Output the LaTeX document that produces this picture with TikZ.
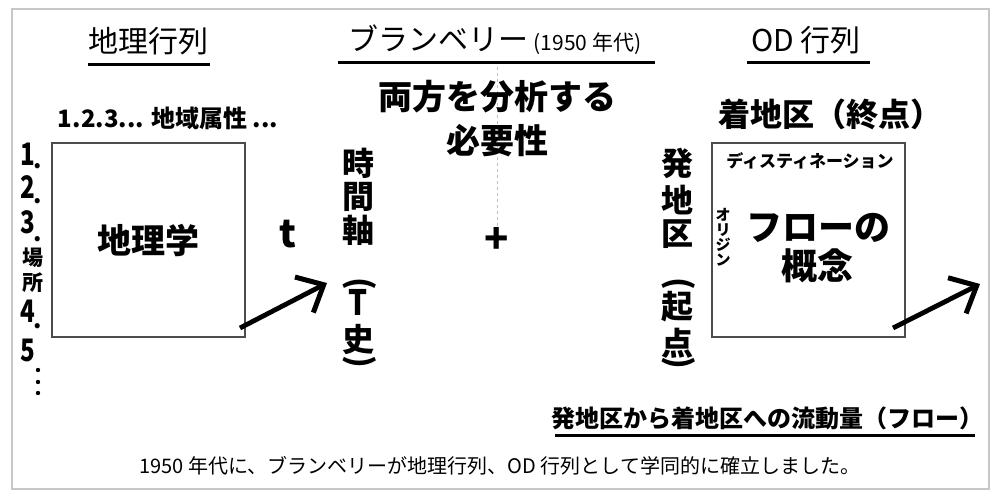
\documentclass[tikz,border=0pt]{standalone}
\usepackage{fontspec}
\setmainfont{Noto Sans CJK JP}
\usetikzlibrary{arrows.meta}
\newcommand\jfs[1]{\fontsize{#1}{#1}\selectfont}
\tikzset{
  frame/.style={draw=black!22,line width=2pt},
  box/.style={draw=black!70,line width=1.6pt,minimum width=193pt,minimum height=194pt,inner sep=0pt},
  uline/.style={line width=3pt,black},
  head/.style={font=\jfs{30}},
  vchar/.style={font=\jfs{32}\bfseries,inner sep=0pt},
  digit/.style={font=\jfs{31}\bfseries,inner sep=0pt,xscale=0.78},
  ndot/.style={font=\jfs{24}\bfseries,inner sep=0pt},
  bigarrow/.style={line width=4.8pt,-{Straight Barb[length=22pt,width=40pt,line width=5pt]}},
  pl/.style={inner sep=0pt},
}
\begin{document}
\begin{tikzpicture}[x=1pt,y=-1pt]
\useasboundingbox (0,0) rectangle (1000,500);
\draw[frame] (12,9) rectangle (989,489);

% headings
\node[head] (h1) at (148,41) {地理行列};
\draw[uline] (88,65) -- (210,65);
\node[head] (h2) at (495,40) {ブランベリー\,{\jfs{21}(1950 年代)}};
\draw[uline] (338,63) -- (655,63);
\node[head] (h3) at (806,40) {OD 行列};
\draw[uline] (747,63) -- (870,63);

% left matrix
\node[font=\jfs{24}\bfseries] (attr) at (168,118) {1.2.3... 地域属性 ...};
\node[box,font=\jfs{34}\bfseries] (geo) at (148.5,240) {地理学};
\node[digit] (c1) at (28,154) {1};
\node[ndot] (d1) at (38,166) {.};
\node[digit] (c2) at (28,187) {2};
\node[ndot] (d2) at (38,201) {.};
\node[digit] (c3) at (28,222) {3};
\node[ndot] (d3) at (38,239) {.};
\node[pl,font=\jfs{21}\bfseries] (c4) at (33,258) {場};
\node[pl,font=\jfs{21}\bfseries] (c5) at (33,283) {所};
\node[digit] (c6) at (28,311) {4};
\node[ndot] (d6) at (38,326) {.};
\node[digit] (c7) at (28,350) {5};
\foreach \yy in {370,382,393} \fill (38,\yy) circle (2.2pt);

\node[font=\jfs{38}\bfseries,anchor=base] (t) at (288,247) {t};

% time axis
\node[vchar] (v1) at (358,163) {時};
\node[vchar] (v2) at (358,197) {間};
\node[vchar] (v3) at (358,230) {軸};
\node[vchar] (v4) at (360,284) {\rotatebox{-90}{(}};
\node[font=\jfs{35}\bfseries,inner sep=0pt,xscale=0.85] (v5) at (358,302) {T};
\node[vchar] (v6) at (358,340) {史};
\node[vchar] (v7) at (360,362) {\rotatebox{-90}{)}};

% center
\draw[black!25,dashed,line width=0.8pt] (497,67) -- (497,228);
\node[font=\jfs{34}\bfseries] (both) at (497,97) {両方を分析する};
\node[font=\jfs{34}\bfseries] (need) at (497,141) {必要性};
\node[font=\jfs{40}\bfseries] (plus) at (497,240) {+};

% origin
\node[vchar] (w1) at (677,163) {発};
\node[vchar] (w2) at (677,200) {地};
\node[vchar] (w3) at (677,234) {区};
\node[vchar] (w4) at (679,284) {\rotatebox{-90}{(}};
\node[vchar] (w5) at (677,307) {起};
\node[vchar] (w6) at (677,343) {点};
\node[vchar] (w7) at (679,363) {\rotatebox{-90}{)}};

% OD matrix
\node[font=\jfs{32}\bfseries] (dest) at (830,114) {着地区（終点）};
\node[box] (flow) at (808.5,240) {};
\node[font=\jfs{17}\bfseries] (dn) at (810,161) {ディスティネーション};
\node[font=\jfs{15}\bfseries,align=center,inner sep=0pt] (orig) at (723,237) {オ\\リ\\ジ\\ン};
\node[font=\jfs{36}\bfseries] (f1) at (818,228) {フローの};
\node[font=\jfs{36}\bfseries] (f2) at (817,266) {概念};

% arrows
\coordinate (a1s) at (240,328);
\coordinate (a1e) at (327,283);
\draw[bigarrow] (a1s) -- (a1e);
\coordinate (a2s) at (893,328);
\coordinate (a2e) at (980,284);
\draw[bigarrow] (a2s) -- (a2e);

% bottom
\node[font=\jfs{24}\bfseries] (fl) at (767,418) {発地区から着地区への流動量（フロー）};
\draw[uline] (555,435) -- (975,435);
\node[font=\jfs{20}] (foot) at (500,466) {1950 年代に、ブランベリーが地理行列、OD 行列として学同的に確立しました。};
\end{tikzpicture}
\end{document}
